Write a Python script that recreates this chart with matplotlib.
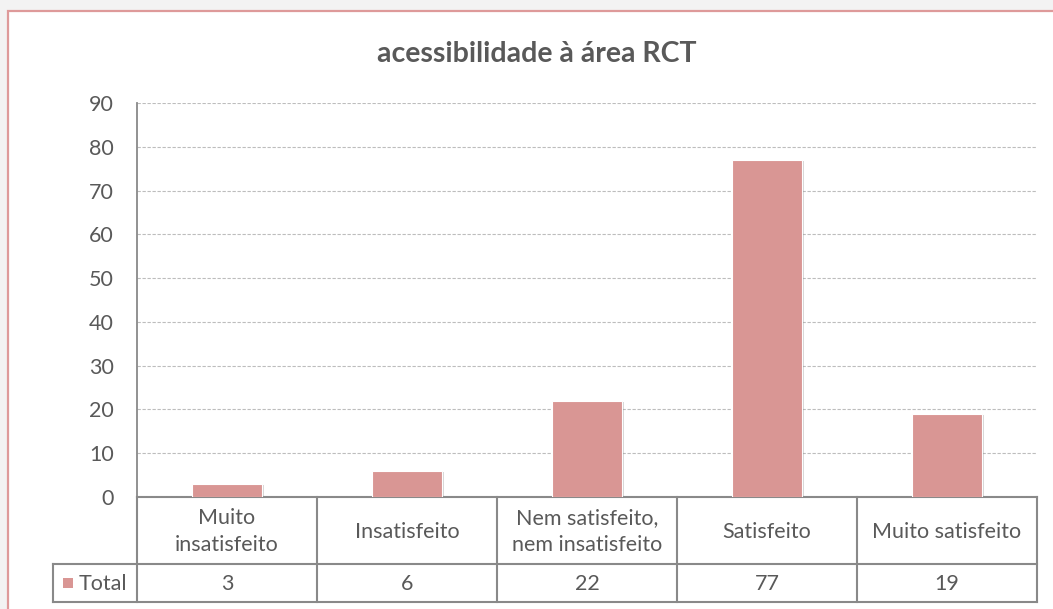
import matplotlib
matplotlib.use("Agg")
import matplotlib.pyplot as plt
from matplotlib.patches import Rectangle
from matplotlib.transforms import blended_transform_factory
import matplotlib.patheffects as pe

title = "acessibilidade à área RCT"
categories = ["Muito\ninsatisfeito", "Insatisfeito", "Nem satisfeito,\nnem insatisfeito",
              "Satisfeito", "Muito satisfeito"]
values = [3, 6, 22, 77, 19]
series_name = "Total"
yticks = [0, 10, 20, 30, 40, 50, 60, 70, 80, 90]

W, H = 1053, 609
FONT = ["Lato", "DejaVu Sans"]
TXT = "#595959"
BAR = "#D99694"
LINE = "#898989"
FS = 15.5

fig = plt.figure(figsize=(W / 100, H / 100), dpi=100, facecolor="#F3F3F3")

# overlay in pixel coordinates
ov = fig.add_axes([0, 0, 1, 1], zorder=0)
ov.set_xlim(0, W)
ov.set_ylim(H, 0)
ov.axis("off")
ov.add_patch(Rectangle((8, 11), W + 20, H + 20, facecolor="white",
                       edgecolor="#DE9A9A", linewidth=1.6))

L, R, T, B = 137, 1037, 103, 497
ax = fig.add_axes([L / W, (H - B) / H, (R - L) / W, (B - T) / H], zorder=1)
ax.patch.set_alpha(0)
x = list(range(len(categories)))
ax.bar(x, values, width=0.39, color=BAR, edgecolor="white", linewidth=0.8, zorder=3,
       path_effects=[pe.SimplePatchShadow(offset=(1.5, -1.0), shadow_rgbFace="#8a8a8a", alpha=0.35),
                     pe.Normal()])
ax.set_xlim(-0.5, len(categories) - 0.5)
ax.set_ylim(0, 90)
ax.set_yticks(yticks)
ax.set_yticklabels([str(v) for v in yticks], fontsize=FS, color=TXT, fontfamily=FONT)
ax.tick_params(axis="y", length=0, pad=16.5)
ax.set_xticks([])
ax.yaxis.grid(True, linestyle=(0, (3, 1.5)), color="#BDBDBD", linewidth=0.8, zorder=0)
for s in ["top", "right", "bottom"]:
    ax.spines[s].set_visible(False)
ax.spines["left"].set_color(LINE)
ax.spines["left"].set_linewidth(1.3)

ov.text(537, 54, title, ha="center", va="center", fontsize=20.5, fontweight="bold",
        color=TXT, fontfamily=FONT)

# data table
tr = blended_transform_factory(ax.transData, ov.transData)
row1_top, row1_bot, row2_bot = 497, 564, 602
lw = 1.5
ov.plot([L, R], [row1_top, row1_top], color=LINE, lw=lw, zorder=5)
ov.plot([53, R], [row1_bot, row1_bot], color=LINE, lw=lw, zorder=5)
ov.plot([53, R], [row2_bot, row2_bot], color=LINE, lw=lw, zorder=5)
ov.plot([53, 53], [row1_bot, row2_bot], color=LINE, lw=lw, zorder=5)
for i in range(len(categories) + 1):
    ov.plot([i - 0.5, i - 0.5], [row1_top, row2_bot], color=LINE, lw=lw, zorder=5,
            transform=tr)
for i, (c, v) in enumerate(zip(categories, values)):
    ov.text(i, (row1_top + row1_bot) / 2 + 1, c, transform=tr, ha="center", va="center",
            fontsize=FS, color=TXT, fontfamily=FONT, linespacing=1.42)
    ov.text(i, (row1_bot + row2_bot) / 2 + 1, str(v), transform=tr, ha="center", va="center",
            fontsize=FS, color=TXT, fontfamily=FONT)
ov.add_patch(Rectangle((63, 578), 10, 10, facecolor=BAR, edgecolor="none", zorder=5))
ov.text(79, (row1_bot + row2_bot) / 2 + 1, series_name, ha="left", va="center",
        fontsize=FS, color=TXT, fontfamily=FONT)

fig.savefig("out.png", dpi=100, facecolor=fig.get_facecolor())
